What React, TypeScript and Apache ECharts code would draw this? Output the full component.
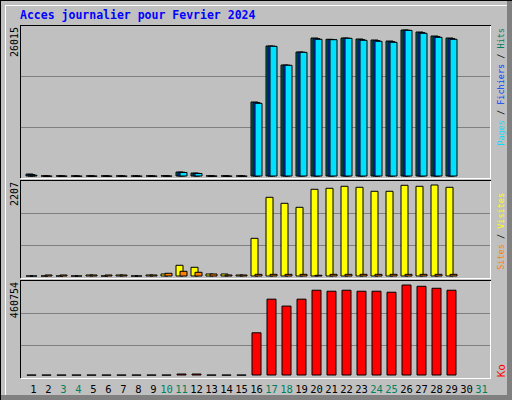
import React, { useEffect, useRef } from "react";
import * as echarts from "echarts";

const titleText = "Acces journalier pour Fevrier 2024";
const days = ["1","2","3","4","5","6","7","8","9","10","11","12","13","14","15","16","17","18","19","20","21","22","23","24","25","26","27","28","29","30","31"];
const weekendDays = ["3","4","10","11","17","18","24","25","31"];

const hits = [530, 180, 180, 170, 180, 180, 180, 170, 180, 200, 880, 700, 190, 180, 180, 13273, 23184, 19821, 22121, 24599, 24369, 24599, 24422, 24245, 24068, 26015, 25661, 24953, 24599, null, null];
const files = [420, 150, 150, 140, 150, 150, 150, 140, 150, 170, 840, 660, 160, 150, 150, 13160, 23157, 19795, 22090, 24480, 24335, 24570, 24300, 24130, 23950, 25980, 25545, 24835, 24480, null, null];
const pages = [300, 120, 120, 110, 120, 120, 120, 110, 120, 140, 800, 620, 130, 120, 120, 13043, 23130, 19768, 22060, 24369, 24300, 24540, 24192, 24015, 23838, 25950, 25430, 24720, 24369, null, null];
const visits = [24, 24, 24, 24, 48, 24, 48, 24, 48, 72, 281, 233, 72, 72, 48, 928, 1912, 1768, 1672, 2104, 2128, 2176, 2152, 2056, 2056, 2200, 2176, 2207, 2152, null, null];
const sites = [24, 48, 48, 24, 48, 48, 48, 24, 48, 89, 137, 113, 72, 48, 48, 64, 64, 64, 64, 41, 64, 64, 64, 64, 64, 64, 64, 64, 64, null, null];
const kbytes = [4000, 4000, 4000, 4000, 4000, 4000, 4000, 4000, 4000, 4000, 10000, 10000, 4000, 4000, 4000, 218800, 389000, 354000, 389000, 434200, 429200, 434200, 429200, 429200, 424200, 460754, 454200, 444200, 434200, null, null];

const C_HIT = "#00805C";
const C_FILE = "#0040FF";
const C_PAGE = "#00E0FF";
const C_SITE = "#FF8000";
const C_VISIT = "#FFFF00";
const C_KB = "#FF0000";
const GREY = "#C0C0C0";
const DKGREY = "#808080";
const MONO = "DejaVu Sans Mono";

const maxOf = (a: (number | null)[]) => Math.max(...(a.filter((v) => v !== null) as number[]));

export default function App() {
  const ref = useRef<HTMLDivElement>(null);
  useEffect(() => {
    if (!ref.current) return;
    const chart = echarts.init(ref.current, null, { renderer: "svg" });
    const maxHits = maxOf(hits);
    const maxVisits = maxOf(visits);
    const maxKb = maxOf(kbytes);

    const panels = [
      { top: 25, bottom: 178 },
      { top: 180, bottom: 278 },
      { top: 280, bottom: 378 },
    ];
    const gridDefs = [
      { left: 24, width: 465, top: 29.5, height: 147 },
      { left: 24, width: 465, top: 184.5, height: 92 },
      { left: 24, width: 465, top: 284.5, height: 91 },
    ];

    const line = (x1: number, y1: number, x2: number, y2: number, stroke: string, z = 1) => ({
      type: "line",
      z,
      silent: true,
      shape: { x1, y1, x2, y2 },
      style: { stroke, lineWidth: 1 },
    });

    const graphics: any[] = [
      // outer frame
      line(0, 0.5, 512, 0.5, "#000000"),
      line(0.5, 0, 0.5, 400, "#000000"),
      { type: "rect", z: 1, silent: true, shape: { x: 507, y: 1, width: 5, height: 399 }, style: { fill: DKGREY } },
      { type: "rect", z: 1, silent: true, shape: { x: 1, y: 395, width: 511, height: 5 }, style: { fill: DKGREY } },
      line(5, 5.5, 507, 5.5, "#FFFFFF"),
      line(5.5, 5, 5.5, 395, "#FFFFFF"),
    ];
    panels.forEach((p) => {
      const h = p.bottom - p.top;
      graphics.push(line(21, p.top + Math.round(h / 3) + 0.5, 490, p.top + Math.round(h / 3) + 0.5, DKGREY));
      graphics.push(line(21, p.top + Math.round((2 * h) / 3) + 0.5, 490, p.top + Math.round((2 * h) / 3) + 0.5, DKGREY));
      graphics.push(line(20, p.top + 0.5, 491, p.top + 0.5, "#000000"));
      graphics.push(line(20.5, p.top, 20.5, p.bottom, "#000000"));
      graphics.push(line(490.5, p.top + 1, 490.5, p.bottom + 1, "#FFFFFF"));
      graphics.push(line(21, p.bottom + 0.5, 491, p.bottom + 0.5, "#FFFFFF"));
    });

    const maxLabels = [String(maxHits), String(maxVisits), String(maxKb)];
    const maxLabelY = [27, 182, 282];
    maxLabels.forEach((t, i) => {
      graphics.push({
        type: "text",
        z: 100,
        x: 14.5,
        y: maxLabelY[i],
        rotation: Math.PI / 2,
        style: { text: t, fill: "#000000", fontFamily: MONO, fontSize: 10, align: "right", verticalAlign: "middle" },
      });
    });

    const sh = { textShadowColor: DKGREY, textShadowOffsetX: -1, textShadowOffsetY: 1, textShadowBlur: 0 };
    const rightLabels = [
      { y: 28, size: 8.5, text: "{c|Pages} {k|/} {b|Fichiers} {k|/} {g|Hits}" },
      { y: 193, size: 8.5, text: "{o|Sites} {k|/} {y|Visites}" },
      { y: 364, size: 11, text: "{r|Ko}" },
    ];
    rightLabels.forEach((l) => {
      const mk = (fill: string) => ({ fill, fontFamily: MONO, fontSize: l.size, ...sh });
      graphics.push({
        type: "text",
        z: 100,
        x: 501,
        y: l.y,
        rotation: Math.PI / 2,
        style: {
          text: l.text,
          fontFamily: MONO,
          fontSize: l.size,
          align: "right",
          verticalAlign: "middle",
          fill: "#000000",
          rich: {
            c: mk(C_PAGE),
            b: mk(C_FILE),
            g: mk(C_HIT),
            o: mk(C_SITE),
            y: mk(C_VISIT),
            r: mk(C_KB),
            k: { fill: "#000000", fontFamily: MONO, fontSize: l.size },
          },
        },
      });
    });

    const bar = (name: string, data: (number | null)[], color: string, grid: number, width: number, gap: string) => ({
      type: "bar",
      name,
      xAxisIndex: grid,
      yAxisIndex: grid,
      data,
      barWidth: width,
      barGap: gap,
      z: 2,
      itemStyle: { color, borderColor: "#000000", borderWidth: 1 },
    });

    const dayRich: any = {};
    [["n", "#000000"], ["w", C_HIT]].forEach(([k, c]) => {
      dayRich[k + "1"] = { color: c, fontFamily: MONO, fontSize: 10.5, padding: [0, 0, 0, 4] };
      dayRich[k + "2"] = { color: c, fontFamily: MONO, fontSize: 10.5 };
    });

    const option: any = {
      animation: false,
      backgroundColor: GREY,
      title: {
        text: titleText,
        left: 20,
        top: 9,
        padding: 0,
        textStyle: { color: "#0000FF", fontFamily: MONO, fontWeight: "bold", fontSize: 11.5 },
      },
      grid: gridDefs,
      xAxis: [0, 1, 2].map((i) => ({
        type: "category",
        gridIndex: i,
        data: days,
        boundaryGap: true,
        axisLine: { show: false },
        axisTick: { show: false },
        splitLine: { show: false },
        axisLabel:
          i === 2
            ? {
                show: true,
                interval: 0,
                margin: 8,
                fontFamily: MONO,
                fontSize: 10.5,
                formatter: (v: string) =>
                  `{${weekendDays.includes(v) ? "w" : "n"}${v.length === 1 ? "1" : "2"}|${v}}`,
                rich: dayRich,
              }
            : { show: false },
      })),
      yAxis: [maxHits, maxVisits, maxKb].map((m, i) => ({
        type: "value",
        gridIndex: i,
        min: 0,
        max: m,
        show: false,
        splitLine: { show: false },
      })),
      series: [
        bar("Hits", hits, C_HIT, 0, 8, "-75%"),
        bar("Fichiers", files, C_FILE, 0, 8, "-75%"),
        bar("Pages", pages, C_PAGE, 0, 8, "-75%"),
        bar("Visites", visits, C_VISIT, 1, 8, "-50%"),
        bar("Sites", sites, C_SITE, 1, 8, "-50%"),
        bar("Ko", kbytes, C_KB, 2, 10, "30%"),
      ],
      graphic: graphics,
    };
    chart.setOption(option);
    return () => chart.dispose();
  }, []);
  return <div ref={ref} style={{ position: "fixed", left: 0, top: 0, width: 512, height: 400 }} />;
}
